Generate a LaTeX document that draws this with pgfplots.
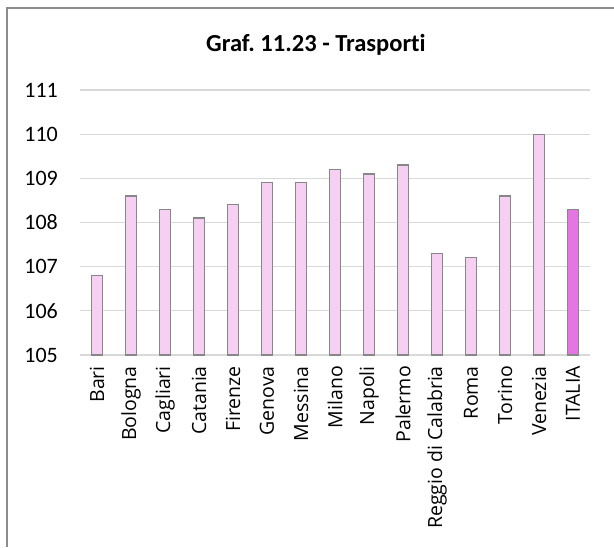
\documentclass[border=0pt]{standalone}
\usepackage{fontspec}
\setmainfont{Carlito}[Ligatures=NoCommon]
\newfontfamily\labfont{Open Sans}
\usepackage{pgfplots}
\pgfplotsset{compat=1.18}

\definecolor{barfill}{RGB}{246,208,243}
\definecolor{itfill}{RGB}{227,118,227}
\definecolor{bardraw}{RGB}{135,135,135}
\definecolor{gridc}{RGB}{217,217,217}
\definecolor{framec}{RGB}{140,140,140}

\begin{document}
\begin{tikzpicture}
\useasboundingbox (0pt,0pt) rectangle (614pt,547pt);
% outer chart frame (cropped at right and bottom)
\draw[framec, line width=1.5pt] (7pt,0pt) -- (7pt,539pt) -- (614pt,539pt);
\node[font=\fontsize{24.5}{28}\selectfont\bfseries] at (316pt,502pt) {Graf.\ 11.23 - Trasporti};
\begin{axis}[
  at={(80pt,192pt)}, anchor=south west,
  scale only axis,
  width=510pt, height=265pt,
  ybar, bar width=11pt, bar shift=0pt,
  xmin=-0.5, xmax=14.5,
  ymin=105, ymax=111,
  ytick={105,...,111},
  xtick={0,...,14},
  xticklabels={Bari,Bologna,Cagliari,Catania,Firenze,Genova,Messina,Milano,Napoli,Palermo,Reggio di Calabria,Roma,Torino,Venezia,ITALIA},
  axis line style={draw=none},
  x axis line style={draw=gridc, line width=1.3pt},
  major tick length=0pt,
  ymajorgrids=true,
  grid style={gridc, line width=1.3pt},
  tick label style={inner sep=0pt},
  /pgf/number format/assume math mode=true,
  yticklabel style={font=\fontsize{22}{26}\selectfont, anchor=east, xshift=-22pt},
  xticklabel style={font=\labfont\fontsize{19.5}{23}\selectfont, rotate=90, anchor=east, xshift=-11pt},
  clip=false,
]
\addplot[fill=barfill, draw=bardraw, line width=1.2pt] coordinates {
  (0,106.8) (1,108.6) (2,108.3) (3,108.1) (4,108.4) (5,108.9) (6,108.9)
  (7,109.2) (8,109.1) (9,109.3) (10,107.3) (11,107.2) (12,108.6) (13,110.0)
};
\addplot[fill=itfill, draw=bardraw, line width=1.2pt] coordinates {
  (14,108.3)
};
\end{axis}
\end{tikzpicture}
\end{document}
